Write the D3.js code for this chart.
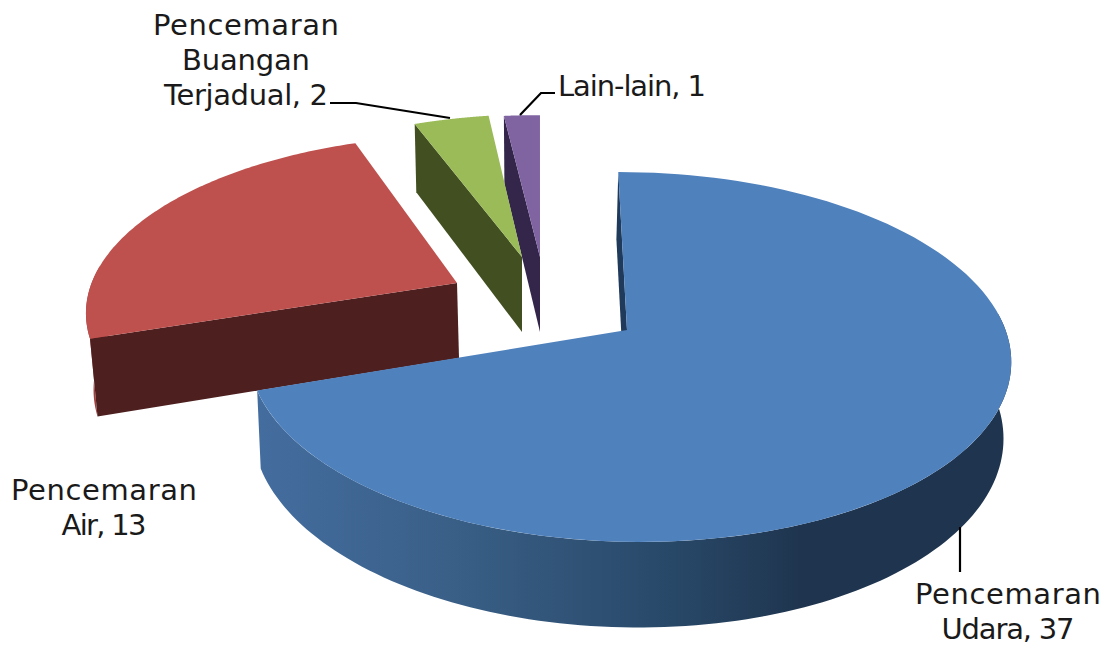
<!DOCTYPE html>
<html><head><meta charset="utf-8">
<script src="https://cdn.jsdelivr.net/npm/d3@7/dist/d3.min.js"></script>
<style>html,body{margin:0;padding:0;background:#fff}svg{display:block}
text{font-family:"DejaVu Sans",sans-serif;font-size:29px;fill:#1a1a1a;text-anchor:middle;font-weight:400}</style>
</head><body><svg id="c" width="1113" height="648"></svg>
<script>
const categories = ["Pencemaran Udara","Pencemaran Air","Pencemaran Buangan Terjadual","Lain-lain"];
const values = [37,13,2,1];
const labelLines = [["Pencemaran","Udara, 37"],["Pencemaran","Air, 13"],["Pencemaran","Buangan","Terjadual, 2"],["Lain-lain, 1"]];

const topColors = ["#4f81bd","#be504d","#9bbb59","#8064a2"];
const wallColors = ["#1f3a5a","#4e1f1f","#414f21","#33264a"];
const rimColors = ["url(#rim)","#a23f3c","#5a6e30","#4a3a60"];

// placement of each exploded slice: apex, then a 2x2 map of the shared projection
const apex = [[627,330],[457,283],[522,257],[540,257]];
const warp = [[1,0,0,1],[.972,-.124,.0027,.936],[.965,-.08,-.015,.905],[.927,-.051,.004,.898]];
const depth = 75, lowerX = .985, lowerY = 1.05, lowerShift = [-2,2,0,0];
const labelX = [1008,104,246,632];
const labelY = [604,500,35,96];
const labelW = [[186,133],[186,85],[186,128,164],[148]];
const leaders = [[[960,527],[960,572]],[],[[330,103],[356,103],[450,118]],[[520,115],[541,93],[555,93]]];

// perspective of the tilted disc
const k=.146, m=.004, b=377, h=10, a=181;
function disc(t){
  const s=Math.sin(t), c=-Math.cos(t), D=1-k*c-m*s;
  return [(b*s+h*c)/D, a*c/D];
}
const pie = d3.pie().sort(null).startAngle(0).endAngle(2*Math.PI)(values);
function topPt(i,t){
  const [x,y]=disc(t), w=warp[i];
  return [w[0]*x+w[1]*y, w[2]*x+w[3]*y];
}
const upper = (i,t)=>{const r=topPt(i,t);return [apex[i][0]+r[0], apex[i][1]+r[1]];};
const lower = (i,t)=>{const r=topPt(i,t);return [apex[i][0]+lowerShift[i]+lowerX*r[0], apex[i][1]+depth+lowerY*r[1]];};
const upperA = i=>[apex[i][0],apex[i][1]];
const lowerA = i=>[apex[i][0]+lowerShift[i],apex[i][1]+depth];
const arcTs = (s,e)=>d3.range(0,121).map(n=>s+(e-s)*n/120);
const line = d3.line().curve(d3.curveLinearClosed);
const open = d3.line();

const svg=d3.select("#c");
const grad=svg.append("defs").append("linearGradient").attr("id","rim").attr("gradientUnits","userSpaceOnUse")
  .attr("x1",257).attr("x2",1012).attr("y1",0).attr("y2",0);
[[0,"#446d9f"],[.25,"#3a6088"],[.55,"#284868"],[.72,"#1f354f"],[1,"#1f344e"]].forEach(d=>grad.append("stop").attr("offset",d[0]).attr("stop-color",d[1]));

const frontFrom = Math.PI*.47, frontTo = Math.PI*1.53; // only the near side of the rim shows
[1,3,2,0].forEach(i=>{
  const d=pie[i], g=svg.append("g");
  const s=Math.max(d.startAngle,frontFrom), e=Math.min(d.endAngle,frontTo);
  if(e>s){
    const rs=arcTs(s,e);
    g.append("path").attr("fill",rimColors[i])
     .attr("d",line([...rs.map(t=>upper(i,t)),...rs.slice().reverse().map(t=>lower(i,t))]));
  }
  const t=d.startAngle;
  g.append("path").attr("fill",wallColors[i])
   .attr("d",line([upper(i,t),upperA(i),lowerA(i),lower(i,t)]));
  g.append("path").attr("fill",topColors[i])
   .attr("d",line([upperA(i),...arcTs(d.startAngle,d.endAngle).map(t=>upper(i,t))]));
});

leaders.forEach(l=>{ if(l.length) svg.append("path").attr("d",open(l)).attr("fill","none").attr("stroke","#000").attr("stroke-width",2.2); });
labelLines.forEach((ls,i)=>ls.forEach((t,j)=>{
  svg.append("text").attr("x",labelX[i]).attr("y",labelY[i]+j*35).attr("textLength",labelW[i][j]).attr("lengthAdjust","spacing").text(t);
}));
</script></body></html>
